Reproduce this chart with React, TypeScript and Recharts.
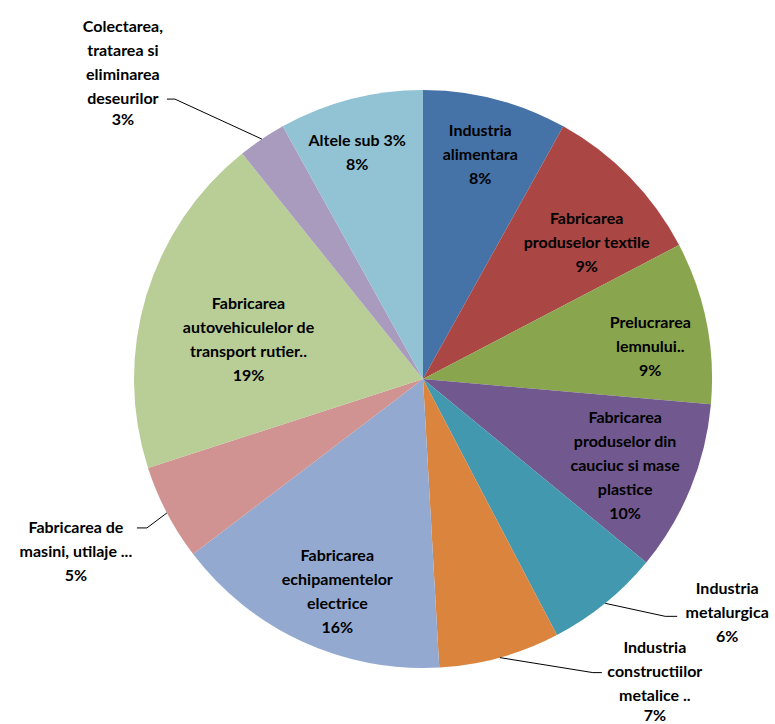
import { PieChart, Pie, Cell } from 'recharts';

const categories = [
  'Industria\nalimentara',
  'Fabricarea\nproduselor textile',
  'Prelucrarea\nlemnului..',
  'Fabricarea\nproduselor din\ncauciuc si mase\nplastice',
  'Industria\nmetalurgica',
  'Industria\nconstructiilor\nmetalice ..',
  'Fabricarea\nechipamentelor\nelectrice',
  'Fabricarea de\nmasini, utilaje ...',
  'Fabricarea\nautovehiculelor de\ntransport rutier..',
  'Colectarea,\ntratarea si\neliminarea\ndeseurilor',
  'Altele sub 3%',
];

const shares = [8.1, 9.3, 9.1, 9.6, 6.4, 6.8, 15.6, 5.4, 19.3, 2.7, 8.1];

const COLORS = [
  '#4572A7', '#AA4643', '#89A54E', '#71588F', '#4198AF', '#DB843D',
  '#93A9CF', '#D19392', '#B9CD96', '#A99BBD', '#92C3D5',
];

// label placement per slice: inside (radius factor + angle nudge) or outside with a leader line
const LABEL_LAYOUT: any[] = [
  { kind: 'in', r: 0.806, da: -0.3 },
  { kind: 'in', r: 0.74, da: 4.2 },
  { kind: 'in', r: 0.795, da: 2.8 },
  { kind: 'in', r: 0.76, da: 0.8 },
  { kind: 'out', ex: 60, ey: 13, tail: 12, tx: 62, line: 1, ly: -5 },
  { kind: 'out', ex: 93, ey: 15, tail: 9, tx: 62, line: 1, ly: -2, pctGap: 20 },
  { kind: 'in', r: 0.79, da: -2.7 },
  { kind: 'out', ex: -20, ey: 15, tail: -10, tx: -71, line: 0, ly: -1 },
  { kind: 'in', r: 0.62, da: -3.5 },
  { kind: 'out', ex: -87, ey: -40, tail: -8, tx: -52, line: 3, ly: -2, pctGap: 21 },
  { kind: 'in', r: 0.82, da: -1.6 },
];

const data = categories.map((name, i) => ({ name, value: shares[i] }));

const LINE_H = 24;
const RAD = Math.PI / 180;

function renderLabel(props: any) {
  const { cx, cy, midAngle, outerRadius, percent, index } = props;
  const cfg = LABEL_LAYOUT[index];
  const lines = [...categories[index].split('\n'), `${Math.round(percent * 100)}%`];
  const textStyle = { fontFamily: 'Lato, "Open Sans", sans-serif', fontWeight: 700, fontSize: 16, fill: '#000' };

  if (cfg.kind === 'in') {
    // clockwise angle from top
    const theta = (90 - midAngle + cfg.da) * RAD;
    const r = outerRadius * cfg.r;
    const x = cx + r * Math.sin(theta);
    const y = cy - r * Math.cos(theta);
    const top = y - ((lines.length - 1) * LINE_H) / 2;
    return (
      <g key={`lbl-${index}`}>
        {lines.map((t, i) => (
          <text key={i} x={x} y={top + i * LINE_H} textAnchor="middle" dominantBaseline="central" style={textStyle}>
            {t}
          </text>
        ))}
      </g>
    );
  }

  const theta = (90 - midAngle) * RAD;
  const sx = cx + outerRadius * Math.sin(theta);
  const sy = cy - outerRadius * Math.cos(theta);
  const ex = sx + cfg.ex;
  const ey = sy + cfg.ey;
  const tx = ex + cfg.tx;
  const base = ey + cfg.ly - cfg.line * LINE_H;
  const last = lines.length - 1;
  return (
    <g key={`lbl-${index}`}>
      <polyline points={`${sx},${sy} ${ex},${ey} ${ex + cfg.tail},${ey}`} fill="none" stroke="#000" strokeWidth={1} />
      {lines.map((t, i) => {
        const y = i === last && cfg.pctGap ? base + (last - 1) * LINE_H + cfg.pctGap : base + i * LINE_H;
        return (
          <text key={i} x={tx} y={y} textAnchor="middle" dominantBaseline="central" style={textStyle}>
            {t}
          </text>
        );
      })}
    </g>
  );
}

export default function App() {
  return (
    <div style={{ position: 'absolute', left: 0, top: 0, width: 775, height: 724, background: '#fff' }}>
      <PieChart width={775} height={724} margin={{ top: 0, right: 0, bottom: 0, left: 0 }}>
        <Pie
          data={data}
          dataKey="value"
          nameKey="name"
          cx={423}
          cy={379}
          outerRadius={289}
          startAngle={90}
          endAngle={-270}
          stroke="none"
          label={renderLabel}
          labelLine={false}
          isAnimationActive={false}
        >
          {data.map((_, i) => (
            <Cell key={`cell-${i}`} fill={COLORS[i]} />
          ))}
        </Pie>
      </PieChart>
    </div>
  );
}
